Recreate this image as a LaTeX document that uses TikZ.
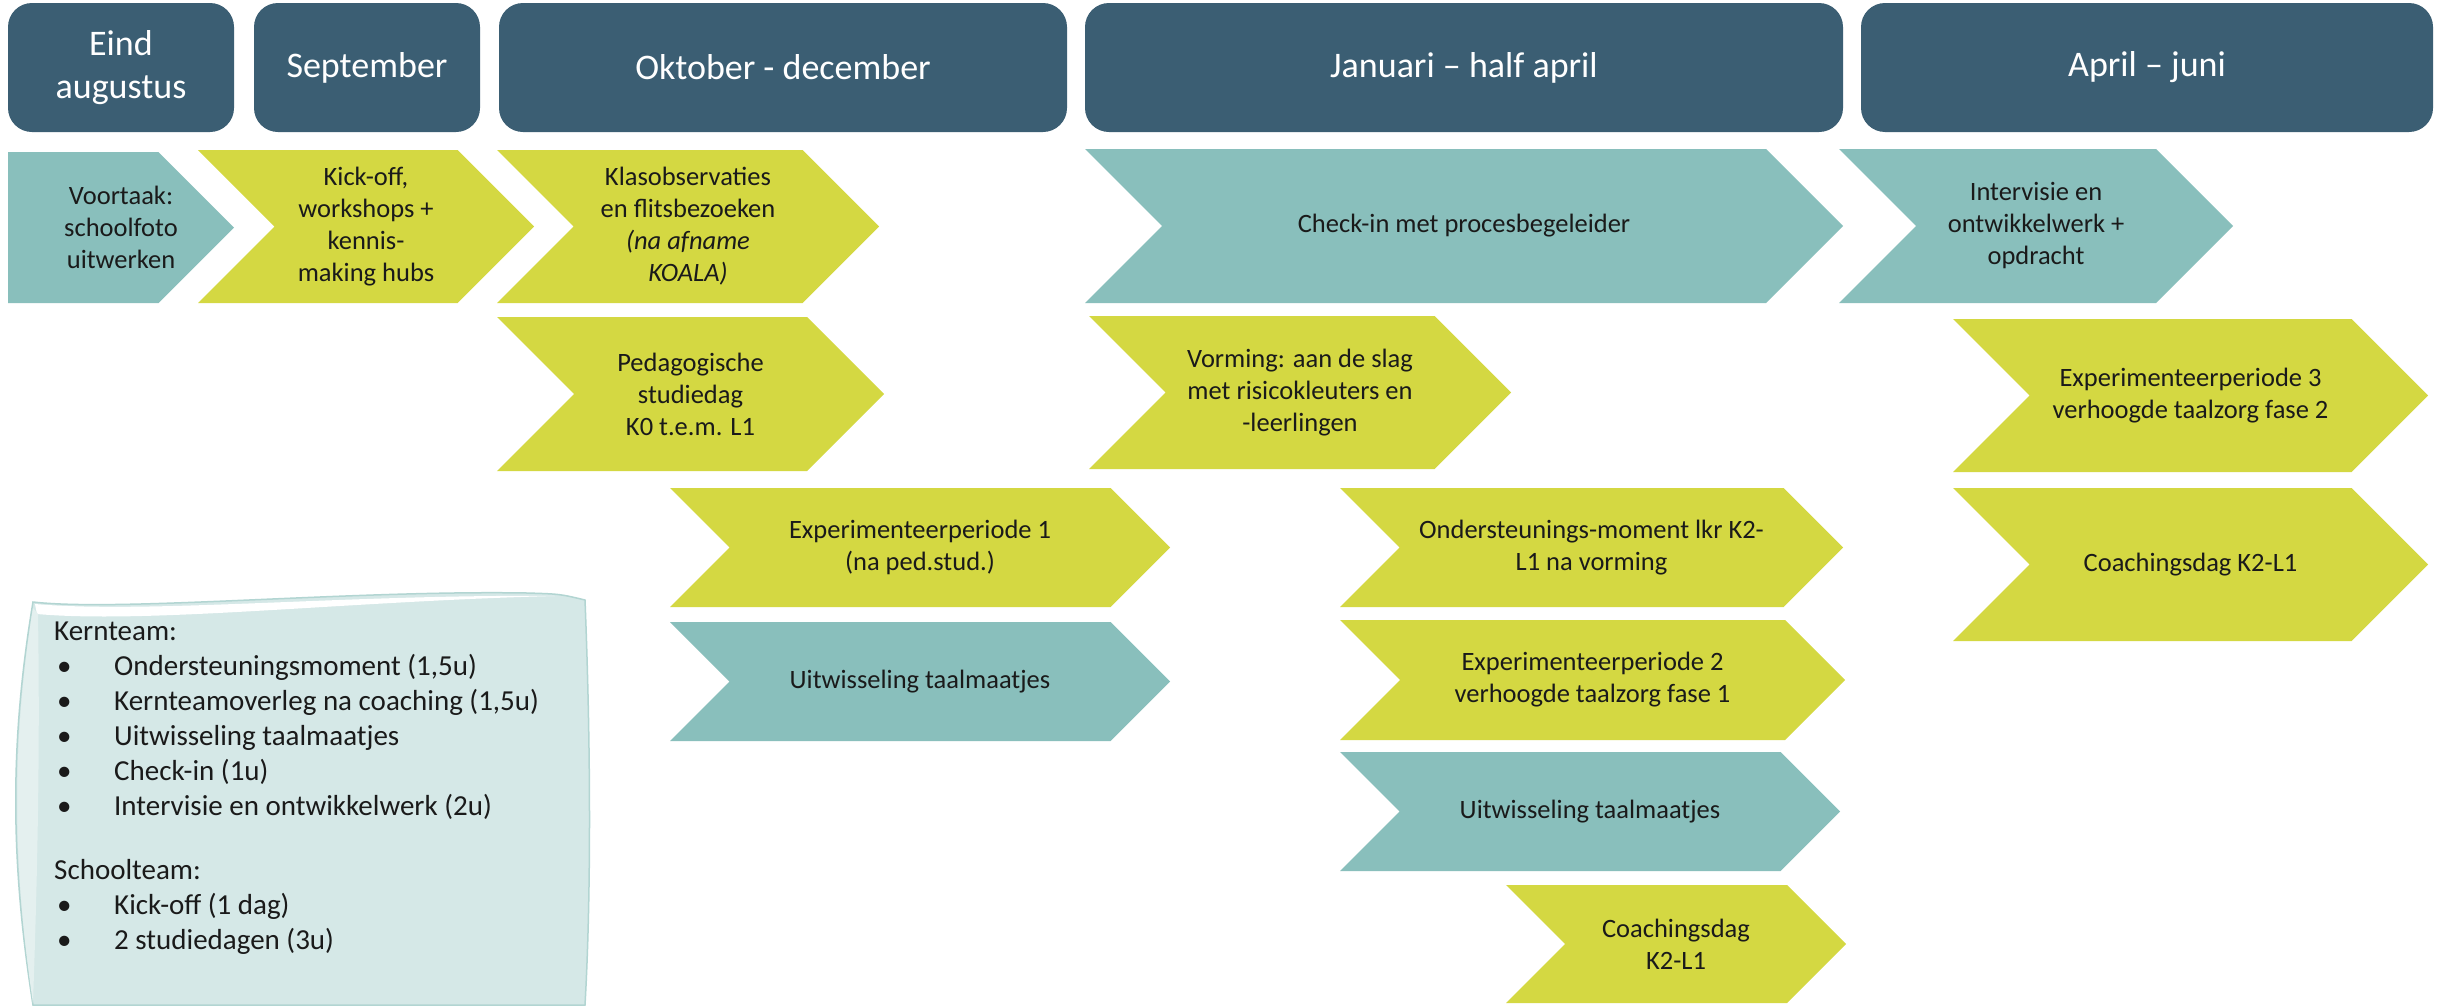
\documentclass[tikz,border=0pt]{standalone}
\usepackage{fontspec}
\setmainfont{Carlito}
\definecolor{hdrblue}{RGB}{59,94,115}
\definecolor{tealc}{RGB}{137,191,188}
\definecolor{limec}{RGB}{212,216,66}
\definecolor{boxfill}{RGB}{213,232,231}
\definecolor{boxline}{RGB}{178,213,210}
\definecolor{boxlight}{RGB}{228,240,239}
\definecolor{txt}{RGB}{26,26,26}
\newcommand{\mychev}[7]{%
  \pgfmathsetmacro{\myhh}{(#5-#3)/2}%
  \pgfmathsetmacro{\mycx}{(#2+#4)/2}%
  \pgfmathsetmacro{\mycy}{(#3+#5)/2}%
  \fill[#6] (#2,#3) -- ({#4-\myhh},#3) -- (#4,\mycy) -- ({#4-\myhh},#5) -- (#2,#5) -- ({#2+\myhh},\mycy) -- cycle;
  \node[ctext] (#1) at (\mycx,\mycy) {#7};
}
\newcommand{\mypenta}[7]{%
  \pgfmathsetmacro{\myhh}{(#5-#3)/2}%
  \pgfmathsetmacro{\mycx}{(#2+#4)/2}%
  \pgfmathsetmacro{\mycy}{(#3+#5)/2}%
  \fill[#6] (#2,#3) -- ({#4-\myhh},#3) -- (#4,\mycy) -- ({#4-\myhh},#5) -- (#2,#5) -- cycle;
  \node[ctext] (#1) at (\mycx,\mycy) {#7};
}
\newcommand{\bul}{\makebox[60pt][l]{\hspace{3pt}•}}
\begin{document}
\begin{tikzpicture}[x=1pt,y=-1pt,
  hdr/.style={fill=hdrblue, rounded corners=24pt, text=white, font=\fontsize{36}{43}\selectfont, align=center, inner sep=0pt},
  ctext/.style={text=txt, font=\fontsize{26.5}{32}\selectfont, align=center, inner sep=0pt},
  btext/.style={text=txt, font=\fontsize{29}{35}\selectfont, anchor=base west, inner sep=0pt}]
\useasboundingbox[fill=white] (0,0) rectangle (2438,1007);

% headers
\node[hdr, minimum width=226pt, minimum height=129pt] (h1) at (121,67.5) {Eind\\augustus};
\node[hdr, minimum width=226pt, minimum height=129pt] (h2) at (367,67.5) {September};
\node[hdr, minimum width=568pt, minimum height=129pt] (h3) at (783,67.5) {Oktober - december};
\node[hdr, minimum width=758pt, minimum height=129pt] (h4) at (1464,67.5) {Januari – half april};
\node[hdr, minimum width=572pt, minimum height=129pt] (h5) at (2147,67.5) {April – juni};

% chevrons
\mypenta{voor}{8}{152}{234}{303}{tealc}{Voortaak:\\schoolfoto\\uitwerken}
\mychev{kick}{198}{150}{534}{303}{limec}{Kick-off,\\workshops +\\kennis-\\making hubs}
\mychev{klas}{497}{150}{879}{303}{limec}{Klasobservaties\\en flitsbezoeken\\\textit{(na afname}\\\textit{KOALA)}}
\mychev{ped}{497}{317}{884}{471}{limec}{Pedagogische\\studiedag\\K0 t.e.m. L1}
\mychev{check}{1085}{149}{1843}{303}{tealc}{Check-in met procesbegeleider}
\mychev{inter}{1839}{149}{2233}{303}{tealc}{Intervisie en\\ontwikkelwerk +\\opdracht}
\mychev{vorm}{1089}{316}{1511}{469}{limec}{Vorming: aan de slag\\met risicokleuters en\\-leerlingen}
\mychev{exp3}{1953}{319}{2428}{472}{limec}{Experimenteerperiode 3\\verhoogde taalzorg fase 2}
\mychev{coach1}{1953}{488}{2428}{641}{limec}{Coachingsdag K2-L1}
\mychev{exp1}{670}{488}{1170}{607}{limec}{Experimenteerperiode 1\\(na ped.stud.)}
\mychev{uit1}{670}{622}{1170}{741}{tealc}{Uitwisseling taalmaatjes}
\mychev{onder}{1340}{488}{1843}{607}{limec}{Ondersteunings-moment lkr K2-\\L1 na vorming}
\mychev{exp2}{1340}{620}{1845}{740}{limec}{Experimenteerperiode 2\\verhoogde taalzorg fase 1}
\mychev{uit2}{1340}{752}{1840}{871}{tealc}{Uitwisseling taalmaatjes}
\mychev{coach2}{1506}{885}{1846}{1003}{limec}{Coachingsdag\\K2-L1}

% note box
\path[fill=boxfill, draw=boxline, line width=1.5pt]
  (33,602) .. controls (120,612) and (350,590) .. (527,593)
  .. controls (560,594) .. (585,600)
  .. controls (591,750) and (591,900) .. (585,1005)
  -- (33,1005)
  .. controls (10,860) and (10,740) .. (33,602) -- cycle;
\fill[white] (35,604) .. controls (150,614) and (350,594) .. (555,596)
  .. controls (350,601) and (150,624) .. (37,614) -- cycle;
\fill[boxlight] (33,608) .. controls (12,740) and (12,860) .. (33,1003)
  .. controls (38,860) and (40,740) .. (38,614) -- cycle;

\node[btext] (k0) at (54,640) {Kernteam:};
\node[btext] (k1) at (54,675) {\bul Ondersteuningsmoment (1,5u)};
\node[btext] (k2) at (54,710) {\bul Kernteamoverleg na coaching (1,5u)};
\node[btext] (k3) at (54,745) {\bul Uitwisseling taalmaatjes};
\node[btext] (k4) at (54,780) {\bul Check-in (1u)};
\node[btext] (k5) at (54,815) {\bul Intervisie en ontwikkelwerk (2u)};
\node[btext] (s0) at (54,879) {Schoolteam:};
\node[btext] (s1) at (54,914) {\bul Kick-off (1 dag)};
\node[btext] (s2) at (54,949) {\bul 2 studiedagen (3u)};
\end{tikzpicture}
\end{document}
